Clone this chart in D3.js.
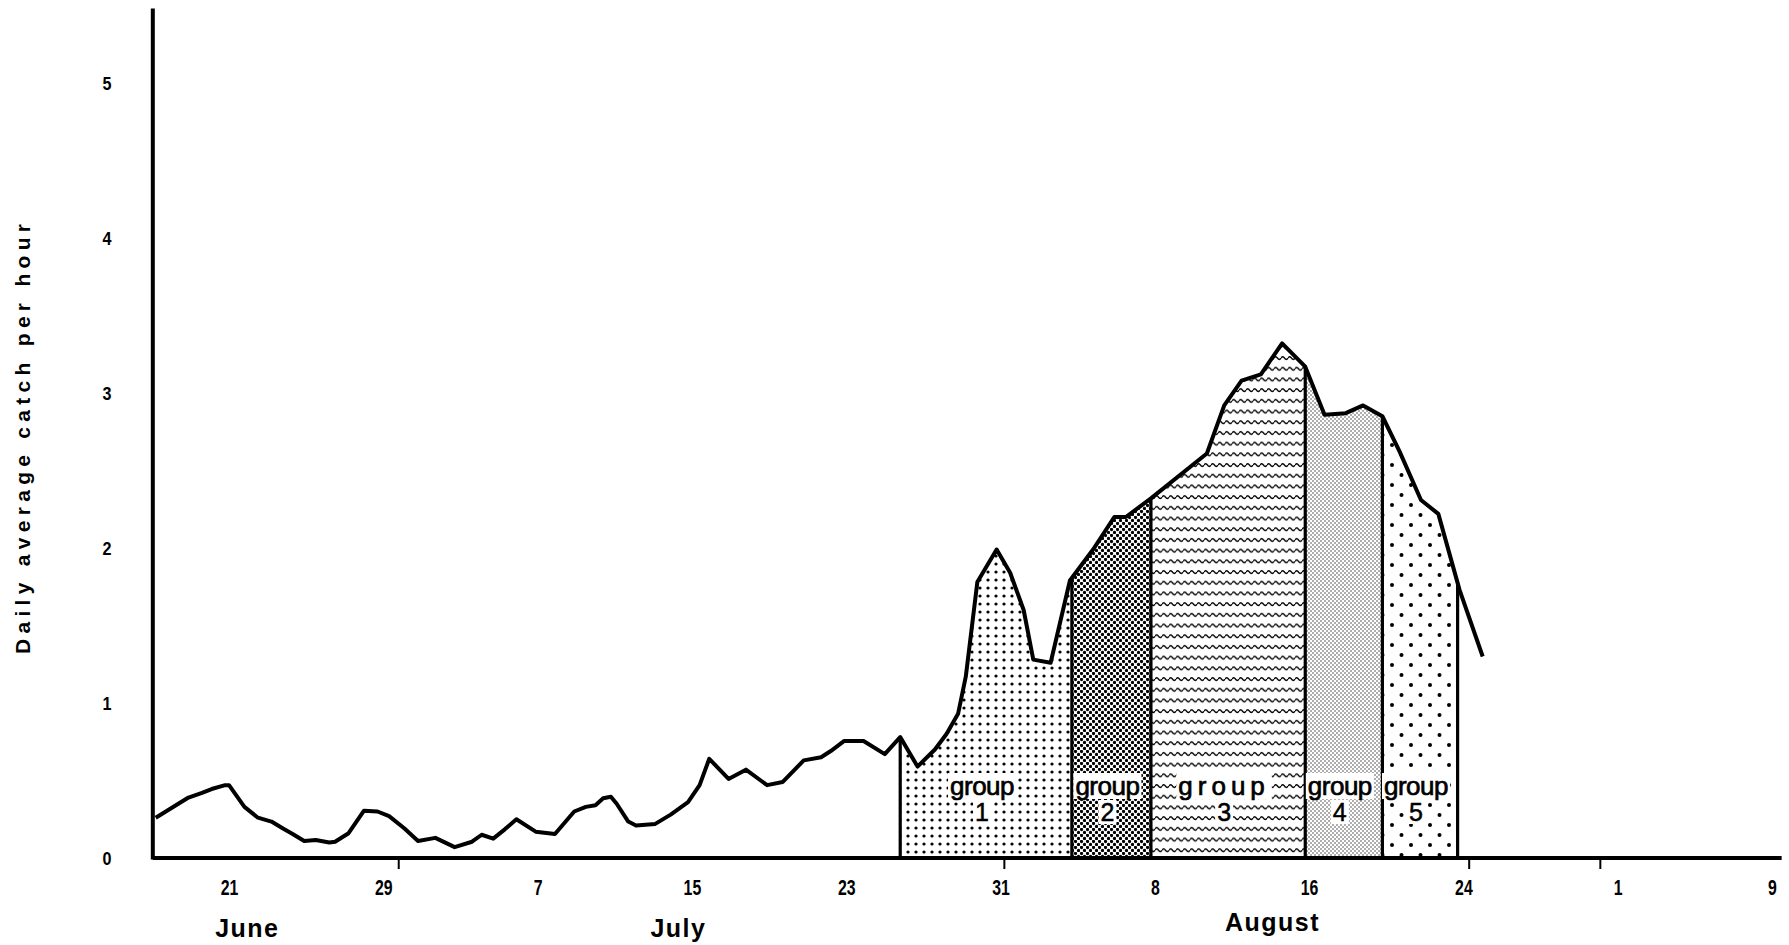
<!DOCTYPE html>
<html><head><meta charset="utf-8">
<script src="https://cdn.jsdelivr.net/npm/d3@7/dist/d3.min.js"></script>
<style>body{margin:0;background:#fff}svg{display:block}</style>
</head><body>
<svg id="c" width="1789" height="945"></svg>
<script>
// day numbers counted from June 1 (June 1 = 0); June 21 = 20, July 1 = 30, Aug 1 = 61, Sep 1 = 92
const days = [16.2,16.6,17.5,17.9,18.6,19.1,19.8,20.0,20.8,21.5,22.2,22.8,23.3,23.9,24.5,25.2,25.5,26.2,27.0,27.7,28.3,29.1,29.8,30.7,31.7,32.6,33.1,33.7,34.3,34.9,35.9,36.9,37.9,38.5,39.0,39.4,39.8,40.1,40.7,41.1,42.1,42.9,43.8,44.4,44.9,45.9,46.8,47.9,48.7,49.8,50.7,51.2,51.9,52.9,54.0,54.8,55.7,56.6,57.2,57.8,58.2,58.8,59.8,60.5,61.2,61.7,62.6,63.6,64.8,65.9,66.5,67.8,70.7,71.6,72.5,73.5,74.6,75.8,76.8,77.9,78.8,79.8,80.7,81.8,82.7,83.8,85.0];
const catchPerHour = [0.26,0.29,0.36,0.39,0.42,0.445,0.47,0.47,0.33,0.26,0.235,0.19,0.155,0.11,0.116,0.10,0.105,0.16,0.305,0.30,0.27,0.19,0.11,0.13,0.07,0.105,0.15,0.125,0.185,0.25,0.17,0.155,0.30,0.33,0.34,0.385,0.395,0.35,0.235,0.21,0.22,0.28,0.36,0.47,0.64,0.51,0.57,0.47,0.49,0.63,0.65,0.69,0.755,0.755,0.67,0.78,0.59,0.70,0.80,0.93,1.17,1.78,1.99,1.84,1.60,1.28,1.26,1.79,1.99,2.20,2.20,2.32,2.61,2.92,3.08,3.12,3.32,3.17,2.86,2.87,2.92,2.85,2.62,2.31,2.22,1.73,1.30];

const xTickDays = [20,28,36,44,52,60,68,76,84,92,100];
const xTickLabels = ["21","29","7","15","23","31","8","16","24","1","9"];
const xTickMarkDays = [28.8,60.2,84.3,91.1];
const yTicks = [0,1,2,3,4,5];
const monthNames = ["June","July","August"];
const monthCenterDays = [20.95,43.3,74.1];
const groupBounds = [54.8,63.7,67.8,75.8,79.8,83.7];
const groupNumbers = ["1","2","3","4","5"];
const groupPatterns = ["p1","p2","p3","p4","p5"];
const yTitle = "Daily average catch per hour";

const svg = d3.select("#c");
const x = d3.scaleLinear().domain([20,100]).range([229,1772]);
const y = d3.scaleLinear().domain([0,5]).range([858,83]);
const data = days.map((d,i)=>({day:d, v:catchPerHour[i]}));
function interp(day){
  for(let i=0;i<data.length-1;i++){
    if(day>=data[i].day && day<=data[i+1].day){
      const t=(day-data[i].day)/(data[i+1].day-data[i].day);
      return data[i].v + t*(data[i+1].v-data[i].v);
    }
  }
  return 0;
}

// patterns
const defs = svg.append("defs");
let p = defs.append("pattern").attr("id","p1").attr("patternUnits","userSpaceOnUse").attr("width",8).attr("height",8);
p.append("circle").attr("cx",4).attr("cy",4).attr("r",1.6).attr("fill","#000");
p = defs.append("pattern").attr("id","p2").attr("patternUnits","userSpaceOnUse").attr("width",6).attr("height",6);
p.append("circle").attr("cx",1.5).attr("cy",1.5).attr("r",1.65).attr("fill","#000");
p.append("circle").attr("cx",4.5).attr("cy",4.5).attr("r",1.65).attr("fill","#000");
p = defs.append("pattern").attr("id","p3").attr("patternUnits","userSpaceOnUse").attr("width",7).attr("height",10.7);
p.append("path").attr("d","M0,5 Q1.75,2.4 3.5,5 T7,5").attr("fill","none").attr("stroke","#000").attr("stroke-width",1.5);
p = defs.append("pattern").attr("id","p4").attr("patternUnits","userSpaceOnUse").attr("width",4).attr("height",4);
p.append("circle").attr("cx",1).attr("cy",1).attr("r",0.75).attr("fill","#333");
p.append("circle").attr("cx",3).attr("cy",3).attr("r",0.75).attr("fill","#333");
p = defs.append("pattern").attr("id","p5").attr("patternUnits","userSpaceOnUse").attr("width",19).attr("height",20);
p.append("circle").attr("cx",5).attr("cy",5).attr("r",2).attr("fill","#000");
p.append("circle").attr("cx",14.5).attr("cy",15).attr("r",2).attr("fill","#000");

// group areas
const area = d3.area().x(d=>x(d.day)).y0(y(0)).y1(d=>y(d.v));
for(let i=0;i<groupNumbers.length;i++){
  const a=groupBounds[i], b=groupBounds[i+1];
  const pts=[{day:a,v:interp(a)}].concat(data.filter(d=>d.day>a&&d.day<b)).concat([{day:b,v:interp(b)}]);
  svg.append("path").attr("d",area(pts)).attr("fill","url(#"+groupPatterns[i]+")");
}
// boundary lines
svg.selectAll(".bnd").data(groupBounds).enter().append("line")
  .attr("x1",d=>x(d)).attr("x2",d=>x(d)).attr("y1",y(0)).attr("y2",d=>y(interp(d)))
  .attr("stroke","#000").attr("stroke-width",3.2);

// labels
const fontFam = "'Liberation Sans', Arial, Helvetica, sans-serif";
for(let i=0;i<groupNumbers.length;i++){
  const cx = x((groupBounds[i]+groupBounds[i+1])/2) - 4;
  const g = svg.append("g");
  const t1 = g.append("text").attr("x",cx).attr("y",795).attr("text-anchor","middle")
    .attr("font-family",fontFam).attr("font-size",26).attr("letter-spacing", i===2?5:-0.5)
    .attr("stroke","#000").attr("stroke-width",0.7).text("group");
  const t2 = g.append("text").attr("x",cx).attr("y",821).attr("text-anchor","middle")
    .attr("font-family",fontFam).attr("font-size",25).attr("stroke","#000").attr("stroke-width",0.5).text(groupNumbers[i]);
  [t1,t2].forEach(t=>{
    const bb=t.node().getBBox();
    g.insert("rect","text").attr("x",bb.x-2).attr("y",bb.y+2).attr("width",bb.width+4).attr("height",bb.height-4).attr("fill","#fff");
  });
}

// line
const line = d3.line().x(d=>x(d.day)).y(d=>y(d.v));
svg.append("path").attr("d",line(data)).attr("fill","none").attr("stroke","#000")
  .attr("stroke-width",4).attr("stroke-linejoin","round");

// axis lines
svg.append("line").attr("x1",x(16.05)).attr("x2",x(16.05)).attr("y1",y(5.48)).attr("y2",y(-0.01))
  .attr("stroke","#000").attr("stroke-width",4);
svg.append("line").attr("x1",x(16.05)).attr("x2",x(100.5)).attr("y1",y(0)).attr("y2",y(0))
  .attr("stroke","#000").attr("stroke-width",4);
svg.selectAll(".tm").data(xTickMarkDays).enter().append("line")
  .attr("x1",d=>x(d)).attr("x2",d=>x(d)).attr("y1",y(0)).attr("y2",y(0)+11)
  .attr("stroke","#000").attr("stroke-width",2);

// x axis labels
const xa = svg.append("g").attr("transform","translate(0,"+y(0)+")")
  .call(d3.axisBottom(x).tickValues(xTickDays).tickFormat((d,i)=>xTickLabels[i]).tickSize(0));
xa.select(".domain").remove();
xa.selectAll("text").attr("dy",null).attr("y",37).attr("transform","scale(0.72,1)")
  .attr("font-family",fontFam).attr("font-size",22).attr("font-weight","bold").attr("fill","#000");

// y axis labels
const ya = svg.append("g").attr("transform","translate(107,0)")
  .call(d3.axisLeft(y).tickValues(yTicks).tickFormat(d3.format("d")).tickSize(0));
ya.select(".domain").remove();
ya.selectAll("text").attr("x",0).attr("text-anchor","middle").attr("dy","0.35em").attr("transform","scale(0.85,1)")
  .attr("font-family",fontFam).attr("font-size",19).attr("font-weight","bold").attr("fill","#000");

// months
svg.selectAll(".mo").data(monthNames).enter().append("text")
  .attr("x",(d,i)=>x(monthCenterDays[i])).attr("y",(d,i)=>[937,937,931][i])
  .attr("text-anchor","middle").attr("font-family",fontFam).attr("font-size",25)
  .attr("font-weight","bold").attr("letter-spacing",1.5).text(d=>d);

// y title
svg.append("text").attr("transform","translate(30,439) rotate(-90)")
  .attr("text-anchor","middle").attr("font-family",fontFam).attr("font-size",21)
  .attr("font-weight","bold").attr("textLength",430).attr("lengthAdjust","spacing").text(yTitle);
</script>
</body></html>
